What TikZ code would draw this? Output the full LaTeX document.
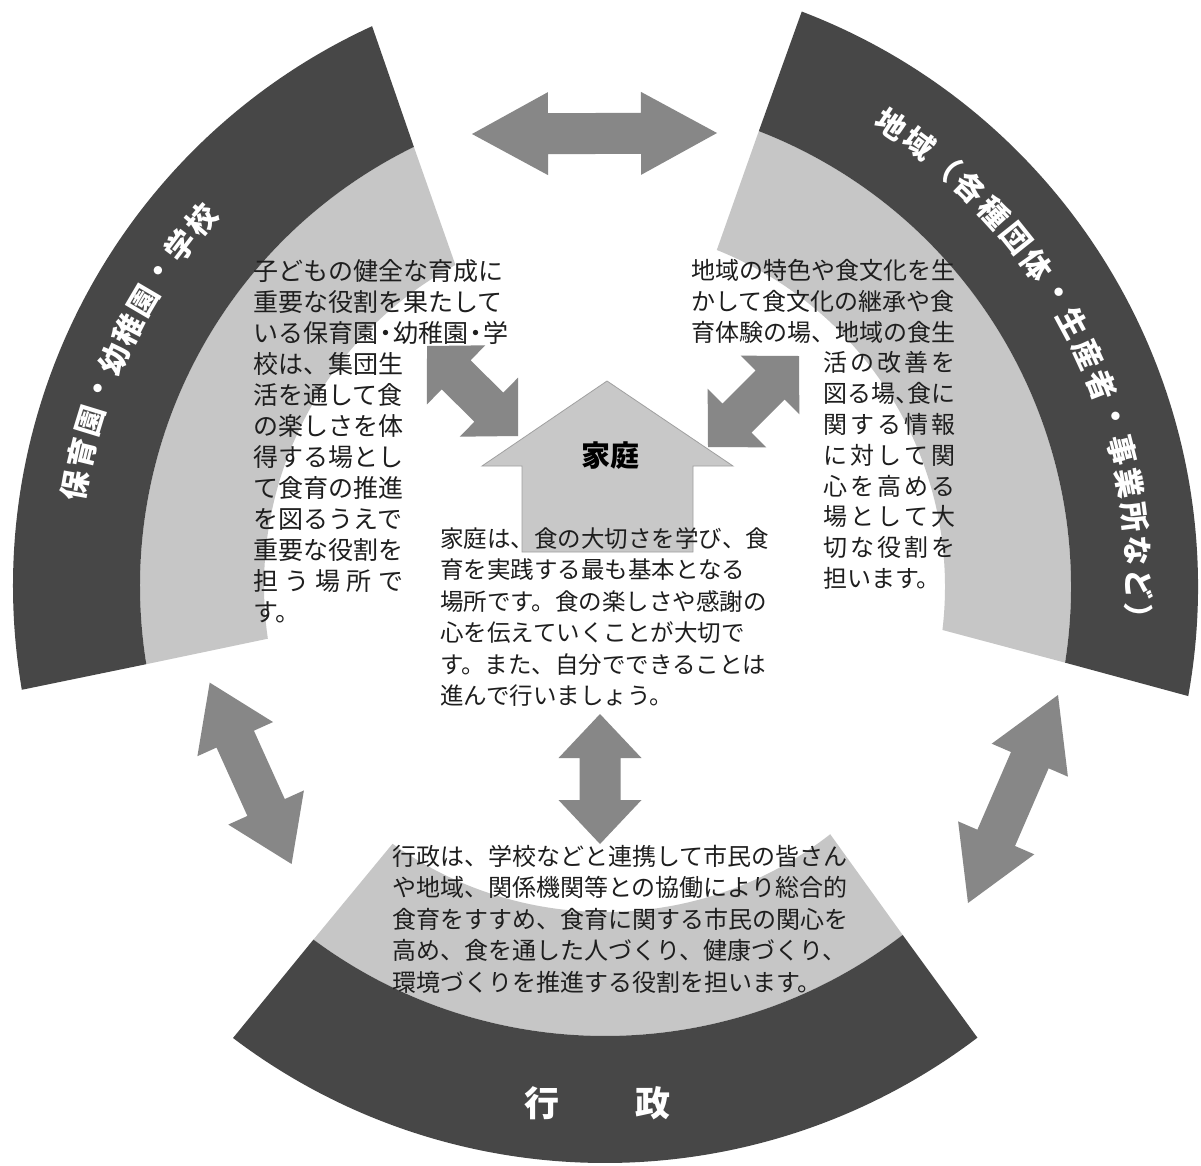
\documentclass[tikz,border=0pt]{standalone}
\usepackage{fontspec}
\newfontfamily\jp{Noto Sans CJK JP}
\usetikzlibrary{calc}
\definecolor{darkband}{RGB}{71,71,71}
\definecolor{lightband}{RGB}{198,198,198}
\definecolor{arrowgray}{RGB}{135,135,135}
\definecolor{housefill}{RGB}{200,200,200}
\definecolor{houseline}{RGB}{160,160,160}
\definecolor{bodytext}{RGB}{30,30,30}
\newcommand\nk{\kern-5pt・\kern-5pt}
\newcommand\blockarrow[3]{%
  \fill[arrowfill] (#1)
   -- ($(#1)!#3!(#2)!41.5pt!90:(#2)$)
   -- ($(#1)!#3!(#2)!20.5pt!90:(#2)$)
   -- ($(#2)!#3!(#1)!20.5pt!-90:(#1)$)
   -- ($(#2)!#3!(#1)!41.5pt!-90:(#1)$)
   -- (#2)
   -- ($(#2)!#3!(#1)!41.5pt!90:(#1)$)
   -- ($(#2)!#3!(#1)!20.5pt!90:(#1)$)
   -- ($(#1)!#3!(#2)!20.5pt!-90:(#2)$)
   -- ($(#1)!#3!(#2)!41.5pt!-90:(#2)$)
   -- cycle;}
\begin{document}
\begin{tikzpicture}[x=1pt,y=-1pt,
  darkpart/.style={fill=darkband},
  lightpart/.style={fill=lightband},
  arrowfill/.style={fill=arrowgray},
  housepart/.style={fill=housefill, draw=houseline, line width=0.8pt},
  body/.style={text=bodytext, align=left, inner sep=0pt, anchor=north west},
  titlechar/.style={font=\jp\bfseries\fontsize{30}{30}\selectfont, text=white, inner sep=0pt},
]
\useasboundingbox (0,0) rectangle (1201,1165);
\fill[white] (0,0) rectangle (1201,1165);

\coordinate (cL) at (629,586);
\coordinate (cR) at (582,587);
\coordinate (cB) at (605,547);

% left sector
\fill[lightpart] ($(cL)+(170.8:489)$) arc[start angle=170.8,end angle=243.9,radius=489] -- ($(cL)+(241.6:365)$) arc[start angle=241.6,end angle=171.7,radius=365] -- cycle;
\fill[darkpart] ($(cL)+(170.3:616)$) arc[start angle=170.3,end angle=245.35,radius=616] -- ($(cL)+(243.9:489)$) arc[start angle=243.9,end angle=170.8,radius=489] -- cycle;
% right sector
\fill[lightpart] ($(cR)+(-68.8:489)$) arc[start angle=-68.8,end angle=8.9,radius=489] -- ($(cR)+(6.8:363)$) arc[start angle=6.8,end angle=-68.2,radius=363] -- cycle;
\fill[darkpart] ($(cR)+(-69.1:616)$) arc[start angle=-69.1,end angle=10.2,radius=616] -- ($(cR)+(8.9:489)$) arc[start angle=8.9,end angle=-68.8,radius=489] -- cycle;
% bottom sector
\fill[lightpart] ($(cB)+(52.5:489)$) arc[start angle=52.5,end angle=126.6,radius=489] -- ($(cB)+(125.6:365)$) arc[start angle=125.6,end angle=51.9,radius=365] -- cycle;
\fill[darkpart] ($(cB)+(52.8:616)$) arc[start angle=52.8,end angle=127.15,radius=616] -- ($(cB)+(126.6:489)$) arc[start angle=126.6,end angle=52.5,radius=489] -- cycle;

% house
\draw[housepart] (607,381) -- (733,466) -- (693,466) -- (693,552) -- (522,552) -- (522,466) -- (482,466) -- cycle;

% arrows
\coordinate (topA) at (472,134);  \coordinate (topB) at (717,133);
\coordinate (lcA) at (427,346);   \coordinate (lcB) at (518,436);
\coordinate (rcA) at (799,356);   \coordinate (rcB) at (708,447);
\coordinate (vA) at (600,714);    \coordinate (vB) at (600,844);
\coordinate (lbA) at (209.7,682.6); \coordinate (lbB) at (291.6,864);
\coordinate (rbA) at (1058,695);  \coordinate (rbB) at (968,903);
\blockarrow{topA}{topB}{76pt}
\blockarrow{lcA}{lcB}{41pt}
\blockarrow{rcA}{rcB}{41pt}
\blockarrow{vA}{vB}{44pt}
\blockarrow{lbA}{lbB}{62pt}
\blockarrow{rbA}{rbB}{71pt}

% titles
\foreach \ch [count=\i from 0] in {保,育,園,・,幼,稚,園,・,学,校}{
  \pgfmathsetmacro\th{190.3+3.36*\i}
  \pgfmathsetmacro\rot{-\th-90}
  \node[titlechar, rotate=\rot] (lt\i) at ($(cL)+(\th:563)$) {\ch};
}
\foreach \ch [count=\i from 0] in {地,域,（,各,種,団,体,・,生,産,者,・,事,業,所,な,ど,）}{
  \pgfmathsetmacro\th{-56.25+3.5*\i}
  \pgfmathsetmacro\rot{-\th-90}
  \node[titlechar, rotate=\rot] (rt\i) at ($(cR)+(\th:557)$) {\ch};
}
\node[font=\jp\bfseries\fontsize{35}{35}\selectfont, text=white, inner sep=0pt] (gyosei) at (597.5,1103) {行\hspace{76pt}政};
\node[font=\jp\bfseries\fontsize{29}{29}\selectfont, text=black, inner sep=0pt] (katei) at (610,456) {家庭};

% body texts
\node[body, font=\jp\fontsize{25}{31}\selectfont] (lefttext) at (253,259)
 {子どもの健全な育成に\\重要な役割を果たして\\いる保育園\nk 幼稚園\nk 学\\校は、集団生\\活を通して食\\の楽しさを体\\得する場とし\\て食育の推進\\を図るうえで\\重要な役割を\\\makebox[150pt][s]{担\hfill う\hfill 場\hfill 所\hfill で}\\す。};
\node[body, font=\jp\fontsize{24}{30.8}\selectfont] (righttext) at (691,259)
 {地域の特色や食文化を生\\かして食文化の継承や食\\育体験の場、地域の食生\\
 \hspace*{132pt}\makebox[132pt][s]{活\hfill の\hfill 改\hfill 善\hfill を}\\
 \hspace*{132pt}図る場、\kern-12pt食に\\
 \hspace*{132pt}\makebox[132pt][s]{関\hfill す\hfill る\hfill 情\hfill 報}\\
 \hspace*{132pt}\makebox[132pt][s]{に\hfill 対\hfill し\hfill て\hfill 関}\\
 \hspace*{132pt}\makebox[132pt][s]{心\hfill を\hfill 高\hfill め\hfill る}\\
 \hspace*{132pt}\makebox[132pt][s]{場\hfill と\hfill し\hfill て\hfill 大}\\
 \hspace*{132pt}\makebox[132pt][s]{切\hfill な\hfill 役\hfill 割\hfill を}\\
 \hspace*{132pt}担います。};
\node[body, font=\jp\fontsize{23.5}{31.5}\selectfont] (centertext) at (440,527)
 {家庭は、食の大切さを学び、食\\育を実践する最も基本となる\\場所です。食の楽しさや感謝の\\心を伝えていくことが大切で\\す。また、自分でできることは\\進んで行いましょう。};
\node[body, font=\jp\fontsize{24}{31.5}\selectfont] (bottomtext) at (392,845)
 {行政は、学校などと連携して市民の皆さん\\や地域、関係機関等との協働により総合的\\食育をすすめ、食育に関する市民の関心を\\高め、食を通した人づくり、健康づくり、\\環境づくりを推進する役割を担います。};
\end{tikzpicture}
\end{document}
